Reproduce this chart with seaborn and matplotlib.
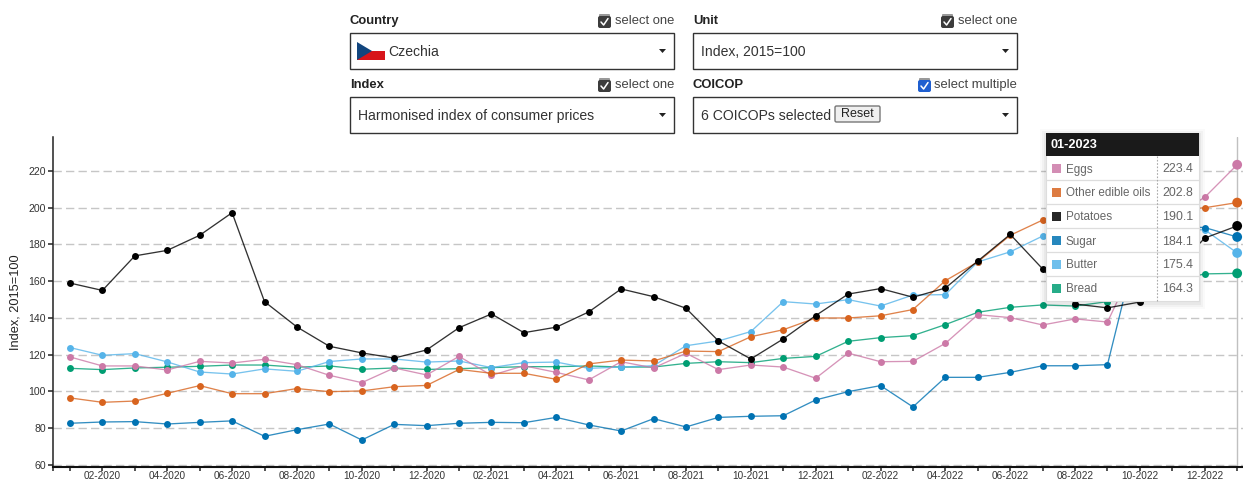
#!/usr/bin/env python

import numpy as np
import pandas as pd
import matplotlib
matplotlib.use('Agg')
import matplotlib.pyplot as plt
from matplotlib.colors import to_rgba
from matplotlib.patches import Rectangle, Polygon, FancyBboxPatch
import seaborn as sns


years = [2020, 2021, 2022, 2023]
months = ['%02d-%d' % (m, y) for y in years[:3] for m in range(1, 13)] + ['01-2023']

eggs = [118.8, 113.9, 113.9, 111.7, 116.4, 115.5, 117.5, 114.6, 108.8, 104.8, 112.8, 109.0,
        119.1, 108.8, 114.0, 110.4, 106.3, 116.2, 112.8, 120.8, 111.9, 114.4, 113.3, 107.2,
        120.9, 116.2, 116.4, 126.2, 141.8, 140.2, 136.2, 139.5, 137.8, 175.0, 195.0, 205.7, 223.4]
oils = [96.5, 94.1, 94.8, 99.0, 103.2, 98.8, 98.8, 101.6, 99.9, 100.3, 102.6, 103.3,
        112.0, 109.9, 109.9, 106.6, 115.0, 117.1, 116.6, 122.0, 121.7, 129.8, 133.6, 140.0,
        140.0, 141.2, 144.6, 160.3, 170.5, 185.0, 193.3, 195.0, 196.0, 197.0, 198.5, 200.0, 202.8]
potatoes = [159.0, 155.0, 173.8, 176.8, 185.0, 197.3, 148.9, 135.1, 124.6, 121.0, 118.2, 122.6,
            134.7, 142.2, 132.0, 135.0, 143.3, 155.8, 151.6, 145.3, 127.5, 117.7, 128.6, 141.3,
            153.0, 156.0, 151.3, 156.3, 171.0, 185.5, 166.7, 147.6, 145.5, 148.7, 165.0, 183.5, 190.1]
sugar = [82.7, 83.4, 83.6, 82.3, 83.2, 84.0, 75.6, 79.2, 82.3, 73.6, 82.1, 81.4,
         82.7, 83.2, 83.0, 85.9, 81.8, 78.5, 85.2, 80.7, 85.9, 86.5, 86.8, 95.4,
         99.9, 103.2, 91.6, 107.7, 107.7, 110.4, 114.0, 114.0, 114.6, 186.0, 190.0, 189.2, 184.1]
butter = [123.9, 119.7, 120.6, 116.1, 110.6, 109.5, 112.3, 111.0, 116.3, 117.7, 117.7, 116.0,
          116.6, 113.0, 115.7, 116.0, 112.6, 113.3, 114.0, 124.9, 127.5, 132.6, 148.9, 147.6,
          150.0, 146.5, 152.5, 152.7, 170.5, 176.0, 184.6, 186.0, 187.0, 187.0, 188.0, 188.0, 175.4]
bread = [112.6, 111.9, 112.8, 113.2, 113.7, 114.4, 114.4, 113.2, 113.9, 112.1, 112.8, 112.0,
         112.4, 113.0, 113.5, 113.5, 113.9, 113.3, 113.3, 115.3, 116.2, 115.7, 118.0, 119.1,
         127.3, 129.3, 130.4, 136.4, 143.1, 145.8, 147.1, 146.5, 148.9, 154.0, 160.0, 164.0, 164.3]

yticks = [60, 80, 100, 120, 140, 160, 180, 200, 220]
tooltip_title = '01-2023'
tooltip_names = ['Eggs', 'Other edible oils', 'Potatoes', 'Sugar', 'Butter', 'Bread']
tooltip_values = ['223.4', '202.8', '190.1', '184.1', '175.4', '164.3']

colors = {'Eggs': '#CC79A7', 'Other edible oils': '#D8641F', 'Potatoes': '#000000',
          'Sugar': '#0072B2', 'Butter': '#56B4E9', 'Bread': '#009E73'}
draw_order = ['Bread', 'Butter', 'Eggs', 'Sugar', 'Other edible oils', 'Potatoes']

W, H = 1243, 479
sns.set_style('white')
plt.rcParams['font.family'] = ['Liberation Sans', 'DejaVu Sans']

series = {'Eggs': eggs, 'Other edible oils': oils, 'Potatoes': potatoes,
          'Sugar': sugar, 'Butter': butter, 'Bread': bread}
rows = []
for name in series:
    for i, m in enumerate(months):
        rows.append({'pos': i, 'month': m, 'item': name, 'value': series[name][i]})
df = pd.DataFrame(rows)

fig = plt.figure(figsize=[W / 100, H / 100], dpi=100)
ax = fig.add_axes([53 / W, 1 - 467 / H, 1 - 53 / W, 330 / H])

ax.yaxis.grid(True, color='#c6c6c6', linewidth=1.0, linestyle=(0, (6, 3)))
ax.set_axisbelow(True)
ax.axvline(len(months) - 1, color='#c0c0c0', linewidth=1.0, zorder=1)

sns.lineplot(data=df, x='pos', y='value', hue='item', hue_order=draw_order, palette=colors,
             marker='o', markersize=5, markeredgewidth=0, linewidth=0.95,
             legend=False, errorbar=None, estimator=None, sort=False, ax=ax)

# lines are see through, dots are not
for line in ax.get_lines()[1:]:
    c = line.get_color()
    line.set_markerfacecolor(c)
    line.set_markeredgecolor(c)
    line.set_color(to_rgba(c, 0.8))

# hovered month gets bigger dots
last = df[df['pos'] == len(months) - 1]
sns.scatterplot(data=last, x='pos', y='value', hue='item', hue_order=draw_order, palette=colors,
                s=50, linewidth=0, legend=False, zorder=5, ax=ax)

ax.set_xlim(-0.524, 36.18)
ax.set_ylim(58.9, 238.5)
ax.set_yticks(yticks)
ax.set_xticks(range(len(months)))
ax.set_xticks([-0.524], minor=True)
ax.set_xticklabels([m if i % 2 == 1 else '' for i, m in enumerate(months)])
ax.tick_params(axis='x', which='both', length=2.8, width=1.1, color='#222222', bottom=True,
               pad=0, labelsize=7.2, labelcolor='#333333')
ax.tick_params(axis='y', length=3.5, width=1.1, color='#222222', left=True, pad=1.5,
               labelsize=7.6, labelcolor='#333333')
ax.set_xlabel('')
ax.set_ylabel('')
sns.despine(ax=ax)
ax.spines['left'].set_color('#222222')
ax.spines['left'].set_linewidth(1.1)
ax.spines['bottom'].set_color('#111111')
ax.spines['bottom'].set_linewidth(1.5)

# page controls and tooltip in pixel coordinates
ui = fig.add_axes([0, 0, 1, 1], zorder=10)
ui.set_xlim(0, W)
ui.set_ylim(H, 0)
ui.axis('off')
ui.patch.set_alpha(0)

ui.text(16, 302, 'Index, 2015=100', rotation=90, ha='center', va='center', fontsize=9.2, color='#222222')


def checkbox(x, y, color):
    ui.add_patch(FancyBboxPatch((x + 1, y), 11, 3, boxstyle='round,pad=0,rounding_size=1',
                                fc='#999999', ec='none'))
    ui.add_patch(FancyBboxPatch((x, y + 2), 13, 12, boxstyle='round,pad=0,rounding_size=2',
                                fc=color, ec='none'))
    ui.plot([x + 3, x + 5.6, x + 10], [y + 8, y + 11, y + 4.5], color='white', lw=1.1)


def control(x, y, label, mode, value, mode_color='#3c3c3c'):
    w = 324
    ui.text(x, y - 12, label, fontsize=9.4, fontweight='bold', color='#222222', va='center')
    ui.text(x + w, y - 12, mode, fontsize=9.4, color='#444444', va='center', ha='right')
    box_x = x + w - (99 if 'multiple' in mode else 76)
    checkbox(box_x, y - 19, mode_color)
    ui.add_patch(Rectangle((x, y), w, 36, fc='white', ec='#333333', lw=1.0))
    ui.add_patch(Polygon([[x + w - 15, y + 16], [x + w - 8, y + 16], [x + w - 11.5, y + 20]],
                         fc='#222222', ec='none'))
    if value:
        ui.text(x + 8, y + 18.5, value, fontsize=10.1, color='#333333', va='center')


control(350, 33, 'Country', 'select one', '')
control(693, 33, 'Unit', 'select one', 'Index, 2015=100')
control(350, 97, 'Index', 'select one', 'Harmonised index of consumer prices')
control(693, 97, 'COICOP', 'select multiple', '6 COICOPs selected', '#1f5fd0')

# flag
ui.add_patch(Rectangle((357, 42), 28, 9, fc='white', ec='none'))
ui.add_patch(Rectangle((357, 51), 28, 9, fc='#d7141a', ec='none'))
ui.add_patch(Polygon([[357, 42], [357, 60], [372, 51]], fc='#11457e', ec='none'))
ui.text(388, 51.5, 'Czechia', fontsize=10.1, color='#333333', va='center')

# reset button
ui.add_patch(FancyBboxPatch((835, 106), 45, 16, boxstyle='round,pad=0,rounding_size=1.5',
                            fc='#efefef', ec='#777777', lw=1))
ui.text(857.5, 114, 'Reset', fontsize=9.0, color='#222222', ha='center', va='center')

# tooltip
tx0, tx1, ty0, ty1 = 1046, 1199, 133, 301
for grow, a in zip([6, 4, 2], [0.02, 0.03, 0.04]):
    ui.add_patch(Rectangle((tx0 - grow, ty0 - grow + 2), tx1 - tx0 + 2 * grow, ty1 - ty0 + 2 * grow,
                           fc='black', alpha=a, ec='none'))
ui.add_patch(Rectangle((tx0, ty0), tx1 - tx0, ty1 - ty0, fc='white', ec='#dddddd', lw=0.8))
ui.add_patch(Rectangle((tx0, ty0), tx1 - tx0, 23, fc='#1a1a1a', ec='none'))
ui.text(tx0 + 5, ty0 + 12, tooltip_title, fontsize=9.2, fontweight='bold', color='white', va='center')
for i, name in enumerate(tooltip_names):
    y = 156 + 24 * i
    if i > 0:
        ui.plot([tx0, tx1], [y, y], color='#dddddd', lw=0.9)
    ui.add_patch(Rectangle((1052, y + 8), 9, 9, fc=colors[name], alpha=0.85, ec='none'))
    ui.text(1066, y + 13.5, name, fontsize=8.4, color='#666666', va='center')
    ui.text(1193, y + 13.5, tooltip_values[i], fontsize=8.9, color='#666666', va='center', ha='right')
ui.plot([1157, 1157], [156, ty1], color='#aaaaaa', lw=0.8, linestyle=(0, (1.5, 1.5)))

plt.savefig('out.png', dpi=100)
